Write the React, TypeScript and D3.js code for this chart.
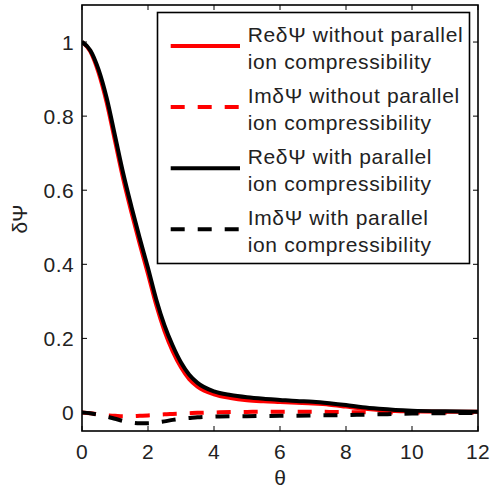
import React from "react";
import * as d3 from "d3";

const theta = [0, 0.25, 0.5, 0.75, 1, 1.25, 1.5, 1.75, 2, 2.25, 2.5, 2.75, 3, 3.25, 3.5, 4, 4.5, 5, 5.5, 6, 6.5, 7, 7.5, 8, 8.5, 9, 9.5, 10, 11, 12];

const reWithout = [1.0, 0.975, 0.918, 0.836, 0.733, 0.63, 0.54, 0.455, 0.374, 0.29, 0.22, 0.165, 0.122, 0.09, 0.07, 0.049, 0.039, 0.033, 0.03, 0.028, 0.026, 0.024, 0.021, 0.016, 0.011, 0.007, 0.004, 0.003, 0.002, 0.002];
const imWithout = [0, -0.002, -0.005, -0.008, -0.009, -0.01, -0.01, -0.009, -0.008, -0.0065, -0.005, -0.004, -0.003, -0.002, -0.001, 0.0, 0.001, 0.0015, 0.002, 0.002, 0.002, 0.002, 0.0015, 0.001, 0.0005, 0.0, 0.0, 0.0, 0.0, 0.0];
const reWith = [1.0, 0.978, 0.926, 0.848, 0.747, 0.645, 0.555, 0.47, 0.39, 0.305, 0.235, 0.18, 0.135, 0.102, 0.08, 0.057, 0.047, 0.041, 0.037, 0.034, 0.031, 0.029, 0.025, 0.02, 0.014, 0.01, 0.007, 0.005, 0.003, 0.002];
const imWith = [0, -0.002, -0.006, -0.011, -0.017, -0.023, -0.027, -0.029, -0.029, -0.027, -0.024, -0.02, -0.017, -0.015, -0.013, -0.011, -0.01, -0.01, -0.0095, -0.009, -0.0085, -0.008, -0.0075, -0.007, -0.006, -0.005, -0.004, -0.003, -0.002, -0.001];

const xTicks = [0, 2, 4, 6, 8, 10, 12];
const yTicks = [0, 0.2, 0.4, 0.6, 0.8, 1];

const legendLabels = [
  ["Re\u03B4\u03A8 without parallel", "ion compressibility"],
  ["Im\u03B4\u03A8 without parallel", "ion compressibility"],
  ["Re\u03B4\u03A8 with parallel", "ion compressibility"],
  ["Im\u03B4\u03A8 with parallel", "ion compressibility"],
];

export default function App() {
  const left = 82, right = 478, top = 5, bottom = 431;
  const x = d3.scaleLinear().domain([0, 12]).range([left, right]);
  const y = d3.scaleLinear().domain([-0.05, 1.1]).range([bottom, top]);
  const line = (vals: number[]) =>
    d3.line<number>().x((_, i) => x(theta[i])).y((d) => y(d)).curve(d3.curveMonotoneX)(vals) || "";

  const series = [
    { vals: reWithout, color: "#ff0000", dash: undefined as string | undefined },
    { vals: imWithout, color: "#ff0000", dash: "14 13" },
    { vals: reWith, color: "#000000", dash: undefined },
    { vals: imWith, color: "#000000", dash: "14 13" },
  ];

  const font = "'Liberation Sans', Arial, Helvetica, sans-serif";
  const tl = 5;

  const lx0 = 157.5, ly0 = 12.5, lx1 = 469.5, ly1 = 263.5;

  return (
    <svg width={490} height={491} style={{ position: "absolute", left: 0, top: 0, background: "#fff" }} fontFamily={font}>
      <rect x={0} y={0} width={490} height={491} fill="#fff" />
      <defs>
        <clipPath id="plotclip">
          <rect x={left} y={top} width={right - left} height={bottom - top} />
        </clipPath>
      </defs>
      <g clipPath="url(#plotclip)">
        {series.map((s, i) => (
          <path key={i} d={line(s.vals)} fill="none" stroke={s.color} strokeWidth={4} strokeDasharray={s.dash} />
        ))}
      </g>
      {xTicks.map((t) => (
        <g key={"xt" + t}>
          <line x1={x(t)} x2={x(t)} y1={bottom} y2={bottom - tl} stroke="#000" strokeWidth={1} />
          <line x1={x(t)} x2={x(t)} y1={top} y2={top + tl} stroke="#000" strokeWidth={1} />
          <text x={x(t)} y={458.7} textAnchor="middle" fontSize={21} fill="#222" letterSpacing={0.4}>{t}</text>
        </g>
      ))}
      {yTicks.map((t) => (
        <g key={"yt" + t}>
          <line x1={left} x2={left + tl} y1={y(t)} y2={y(t)} stroke="#000" strokeWidth={1} />
          <line x1={right} x2={right - tl} y1={y(t)} y2={y(t)} stroke="#000" strokeWidth={1} />
          <text x={74} y={y(t) + 7.5} textAnchor="end" fontSize={21} fill="#222" letterSpacing={0.4}>{String(t)}</text>
        </g>
      ))}
      <rect x={left} y={top} width={right - left} height={bottom - top} fill="none" stroke="#000" strokeWidth={1.6} />
      <text x={280} y={485} textAnchor="middle" fontSize={21} fill="#222">θ</text>
      <text transform="translate(26.5,219) rotate(-90)" textAnchor="middle" fontSize={21} fill="#222">δΨ</text>
      <rect x={lx0} y={ly0} width={lx1 - lx0} height={ly1 - ly0} fill="#fff" stroke="#000" strokeWidth={1.6} />
      {series.map((s, i) => {
        const cy = 46 + i * 61.1;
        return (
          <g key={"lg" + i}>
            <line x1={170.7} x2={240} y1={cy} y2={cy} stroke={s.color} strokeWidth={4} strokeDasharray={s.dash} />
            <text x={247.7} y={41.7 + i * 61.1} fontSize={21} fill="#222" letterSpacing={0.65}>{legendLabels[i][0]}</text>
            <text x={247.7} y={68.5 + i * 61.1} fontSize={21} fill="#222" letterSpacing={0.65}>{legendLabels[i][1]}</text>
          </g>
        );
      })}
    </svg>
  );
}
